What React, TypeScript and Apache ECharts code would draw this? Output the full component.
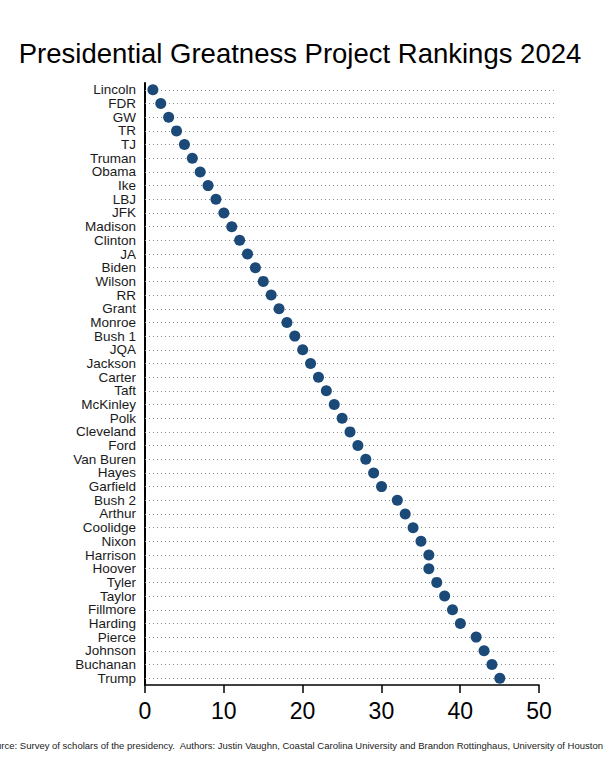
import React, { useEffect, useRef } from "react";
import * as echarts from "echarts";

const presidents = [
  "Lincoln", "FDR", "GW", "TR", "TJ", "Truman", "Obama", "Ike", "LBJ", "JFK",
  "Madison", "Clinton", "JA", "Biden", "Wilson", "RR", "Grant", "Monroe", "Bush 1", "JQA",
  "Jackson", "Carter", "Taft", "McKinley", "Polk", "Cleveland", "Ford", "Van Buren", "Hayes", "Garfield",
  "Bush 2", "Arthur", "Coolidge", "Nixon", "Harrison", "Hoover", "Tyler", "Taylor", "Fillmore", "Harding",
  "Pierce", "Johnson", "Buchanan", "Trump",
];

const ranks = [
  1, 2, 3, 4, 5, 6, 7, 8, 9, 10,
  11, 12, 13, 14, 15, 16, 17, 18, 19, 20,
  21, 22, 23, 24, 25, 26, 27, 28, 29, 30,
  32, 33, 34, 35, 36, 36, 37, 38, 39, 40,
  42, 43, 44, 45,
];

const xTicks = [0, 10, 20, 30, 40, 50];

const titleText = "Presidential Greatness Project Rankings 2024";
const sourceText =
  "Source: Survey of scholars of the presidency.  Authors: Justin Vaughn, Coastal Carolina University and Brandon Rottinghaus, University of Houston";

const FONT = "'Liberation Sans', Arial, sans-serif";

export default function App() {
  const ref = useRef<HTMLDivElement>(null);

  useEffect(() => {
    document.body.style.margin = "0";
    const chart = echarts.init(ref.current!, null, { renderer: "svg" });
    const top = 83;
    const bottom = 91;
    chart.setOption({
      animation: false,
      backgroundColor: "#ffffff",
      textStyle: { fontFamily: FONT },
      grid: [
        { left: 145, right: 58, top, bottom, containLabel: false },
        { left: 145, right: 74, top, bottom, containLabel: false },
      ],
      xAxis: [
        { type: "value", gridIndex: 0, min: 0, max: 52, show: false },
        {
          type: "value",
          gridIndex: 1,
          min: xTicks[0],
          max: xTicks[xTicks.length - 1],
          interval: 10,
          axisLine: { show: true, lineStyle: { color: "#000", width: 1.5 } },
          axisTick: { show: true, length: 8, lineStyle: { color: "#000", width: 1.5 } },
          axisLabel: { fontSize: 23, color: "#000", margin: 14, fontFamily: FONT },
          splitLine: { show: false },
        },
      ],
      yAxis: [
        {
          type: "category",
          gridIndex: 0,
          data: presidents,
          inverse: true,
          axisLine: { show: true, lineStyle: { color: "#000", width: 2 } },
          axisTick: { show: false },
          axisLabel: { fontSize: 13.5, color: "#1a1a1a", margin: 9, fontFamily: FONT, interval: 0 },
          splitLine: { show: false },
        },
        {
          type: "category",
          gridIndex: 1,
          data: presidents,
          inverse: true,
          show: false,
        },
      ],
      graphic: [
        {
          type: "text",
          x: 300,
          y: 53,
          style: {
            text: titleText,
            fontSize: 27.5,
            fontFamily: FONT,
            fill: "#000",
            textAlign: "center",
            textVerticalAlign: "middle",
          },
        },
        {
          type: "text",
          x: 603,
          y: 745,
          style: {
            text: sourceText,
            fontSize: 9.5,
            fontFamily: FONT,
            fill: "#222",
            textAlign: "right",
            textVerticalAlign: "middle",
          },
        },
      ],
      series: [
        {
          type: "scatter",
          xAxisIndex: 0,
          yAxisIndex: 0,
          symbol: "circle",
          symbolSize: 11,
          itemStyle: { color: "#1b4a78", opacity: 1 },
          z: 5,
          data: ranks.map((r, i) => [r, presidents[i]]),
          markLine: {
            silent: true,
            symbol: "none",
            label: { show: false },
            lineStyle: { color: "#8a8a8a", type: [1, 3], width: 1 },
            emphasis: { disabled: true },
            data: presidents.map((p) => ({ yAxis: p })),
          },
        },
      ],
    });
    return () => chart.dispose();
  }, []);

  return <div ref={ref} style={{ width: 613, height: 776 }} />;
}
